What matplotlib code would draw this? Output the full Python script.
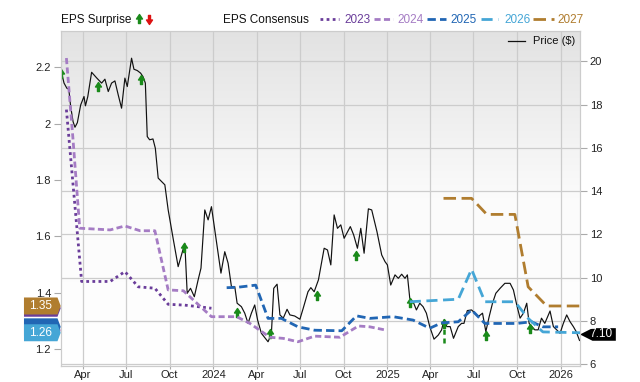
import matplotlib
matplotlib.use("Agg")
import matplotlib.pyplot as plt
import matplotlib.dates as mdates
import numpy as np
import pandas as pd
from matplotlib.path import Path
from matplotlib.patches import Polygon
from matplotlib.lines import Line2D
from matplotlib.colors import LinearSegmentedColormap
import matplotlib.transforms as mtransforms

plt.rcParams['font.family'] = ['Liberation Sans', 'DejaVu Sans']

# ---------------- data ----------------
price_dates = ["2023-02-14","2023-02-21","2023-02-27","2023-03-03","2023-03-07","2023-03-12","2023-03-16","2023-03-21","2023-03-28","2023-04-04",
               "2023-04-07","2023-04-12","2023-04-20","2023-05-01","2023-05-11","2023-05-18","2023-05-25","2023-06-01","2023-06-08","2023-06-15",
               "2023-06-22","2023-06-29","2023-07-04","2023-07-13","2023-07-18","2023-07-25","2023-08-01","2023-08-06","2023-08-11","2023-08-15",
               "2023-08-20","2023-08-27","2023-09-01","2023-09-07","2023-09-21","2023-09-28","2023-10-09","2023-10-19","2023-10-26","2023-11-02",
               "2023-11-07","2023-11-14","2023-11-22","2023-11-30","2023-12-06","2023-12-14","2023-12-21","2023-12-28","2024-01-04","2024-01-11",
               "2024-01-17","2024-01-25","2024-02-01","2024-02-08","2024-02-15","2024-02-20","2024-02-29","2024-03-07","2024-03-14","2024-03-21",
               "2024-03-28","2024-04-03","2024-04-11","2024-04-25","2024-05-02","2024-05-07","2024-05-14","2024-05-20","2024-05-27","2024-06-04",
               "2024-06-10","2024-06-20","2024-07-01","2024-07-08","2024-07-18","2024-07-24","2024-07-31","2024-08-09","2024-08-21","2024-08-28",
               "2024-09-04","2024-09-11","2024-09-18","2024-09-25","2024-10-02","2024-10-15","2024-10-22","2024-10-30","2024-11-06","2024-11-13",
               "2024-11-22","2024-11-29","2024-12-10","2024-12-20","2024-12-27","2025-01-01","2025-01-08","2025-01-17","2025-01-24","2025-01-31",
               "2025-02-07","2025-02-12","2025-02-17","2025-02-24","2025-03-03","2025-03-10","2025-03-17","2025-03-24","2025-03-31","2025-04-09",
               "2025-04-18","2025-04-25","2025-04-30","2025-05-06","2025-05-13","2025-05-20","2025-05-30","2025-06-06","2025-06-11","2025-06-18",
               "2025-06-27","2025-07-04","2025-07-11","2025-07-20","2025-07-27","2025-08-03","2025-08-10","2025-08-17","2025-08-26","2025-09-05",
               "2025-09-16","2025-09-23","2025-09-30","2025-10-07","2025-10-14","2025-10-21","2025-10-26","2025-11-07","2025-11-14","2025-11-21",
               "2025-11-28","2025-12-09","2025-12-16","2025-12-23","2025-12-30","2026-01-06","2026-01-13","2026-01-20","2026-01-27","2026-02-02",
               "2026-02-09"]
price_values = [19.63,18.99,18.75,18.71,17.90,17.21,16.95,17.16,17.98,18.37,
                17.94,18.37,19.49,19.22,18.99,19.17,18.60,18.99,19.09,18.44,
                17.83,19.22,18.83,20.14,19.63,19.57,19.45,19.29,18.99,16.52,
                16.37,16.41,15.98,14.60,14.29,13.13,11.74,10.51,11.05,11.59,
                9.28,9.51,9.12,9.90,10.44,13.13,12.67,13.28,12.21,11.13,
                10.21,11.20,10.67,9.59,9.59,8.82,8.66,8.36,7.89,8.36,
                8.74,8.05,7.43,7.04,7.40,9.51,9.70,8.28,8.13,8.54,
                8.28,8.23,8.08,8.59,9.35,9.54,9.35,9.90,11.36,11.28,
                10.59,12.90,12.28,12.44,11.82,12.36,11.98,11.36,12.28,11.13,
                13.18,13.13,12.13,11.05,10.74,10.59,9.66,10.13,9.97,10.16,
                9.97,10.13,9.05,8.89,8.51,8.82,8.66,8.36,7.74,7.16,
                7.35,7.59,8.05,7.74,7.74,7.20,7.74,7.89,7.89,8.48,
                8.51,8.36,8.20,8.36,7.51,8.20,8.82,9.28,9.51,9.74,
                9.74,9.43,8.74,8.13,8.36,8.82,7.89,7.59,7.59,8.13,
                7.89,8.46,7.74,7.59,7.43,7.89,8.28,7.97,7.74,7.51,
                7.10]

eps2023_dates = ["2023-02-26","2023-03-30","2023-05-29","2023-06-29","2023-07-27","2023-08-31","2023-09-28","2023-11-02","2023-12-28"]
eps2023_values = [2.05,1.44,1.44,1.475,1.421,1.416,1.359,1.356,1.345]

eps2024_dates = ["2023-02-26","2023-03-12","2023-03-26","2023-05-29","2023-06-29","2023-07-31","2023-08-31","2023-09-28","2023-10-30",
                 "2023-12-28","2024-02-19","2024-03-18","2024-04-29","2024-05-27","2024-06-27","2024-08-01","2024-09-23","2024-11-01",
                 "2024-11-25","2024-12-30"]
eps2024_values = [2.233,1.942,1.629,1.623,1.637,1.620,1.620,1.410,1.407,
                  1.315,1.315,1.291,1.242,1.238,1.226,1.246,1.242,1.282,
                  1.279,1.267]

eps2025_dates = ["2024-01-29","2024-02-19","2024-03-30","2024-04-25","2024-05-23","2024-06-27","2024-08-01","2024-09-27","2024-10-28",
                 "2024-11-25","2025-01-13","2025-02-24","2025-03-31","2025-04-25","2025-05-30","2025-06-27","2025-07-25","2025-09-30",
                 "2025-10-31","2025-11-24","2025-12-26"]
eps2025_values = [1.418,1.419,1.427,1.309,1.309,1.279,1.267,1.265,1.318,
                  1.309,1.315,1.303,1.274,1.293,1.297,1.339,1.291,1.291,
                  1.297,1.279,1.279]

eps2026_dates = ["2025-02-17","2025-05-30","2025-06-27","2025-07-25","2025-09-26","2025-10-24","2025-11-24","2026-02-10"]
eps2026_values = [1.368,1.377,1.483,1.368,1.368,1.309,1.261,1.258]

eps2027_dates = ["2025-04-29","2025-06-27","2025-07-29","2025-09-26","2025-10-24","2025-12-02","2026-02-10"]
eps2027_values = [1.735,1.735,1.678,1.678,1.421,1.353,1.353]

surprise_dates = ["2023-02-14","2023-05-03","2023-08-01","2023-11-01","2024-02-20","2024-04-30",
                  "2024-08-06","2024-10-28","2025-02-17","2025-04-29","2025-07-27","2025-10-27"]
surprise_values = [19.65,19.02,19.37,11.62,8.62,7.63,9.40,11.25,9.06,8.09,7.54,7.86]
stem_date = "2025-04-29"
stem_range = [7.0, 7.75]

year_labels = ["2023", "2024", "2025", "2026", "2027"]
year_colors = ["#6a3d9a", "#a57cc4", "#2166b4", "#45a6d6", "#b07d2f"]
last_price_label = "7.10"

price_ticks = [6, 8, 10, 12, 14, 16, 18, 20]
eps_ticks = [1.2, 1.4, 1.6, 1.8, 2.0, 2.2]

# ---------------- figure ----------------
fig = plt.figure(figsize=(6.4, 3.82), dpi=100)
rect = [60.7/640, (382-366)/382, (580-60.7)/640, (366-30.7)/382]

bg = fig.add_axes(rect, zorder=0)
grad = np.linspace(0, 1, 256)[:, None]
cmap = LinearSegmentedColormap.from_list("g", ["#ffffff", "#fbfbfb", "#e2e2e2"])
bg.imshow(grad, extent=[0, 1, 0, 1], origin="lower", aspect="auto", cmap=cmap)
bg.set_axis_off()

axp = fig.add_axes(rect, zorder=1)
axp.patch.set_visible(False)
axe = axp.twinx()
axe.set_zorder(2)
axe.patch.set_visible(False)

pd_dates = pd.to_datetime(price_dates)
x0 = pd.Timestamp("2023-02-14")
x1 = pd.Timestamp("2026-02-10")
axp.set_xlim(x0, x1)
axp.set_ylim(5.92, 21.41)
axe.set_ylim(1.14, 2.33)

# grid
axp.set_yticks(price_ticks)
axp.set_yticklabels([str(t) for t in price_ticks])
axp.yaxis.tick_right()
axp.grid(True, color="#cccccc", lw=0.9)
axp.set_axisbelow(True)

axp.xaxis.set_major_locator(mdates.MonthLocator(bymonth=[1, 4, 7, 10]))
def fmt(x, pos):
    d = mdates.num2date(x)
    return str(d.year) if d.month == 1 else d.strftime("%b")
axp.xaxis.set_major_formatter(plt.FuncFormatter(fmt))

axe.set_yticks(eps_ticks)
axe.set_yticklabels(["%g" % t for t in eps_ticks])
axe.yaxis.tick_left()

for a in (axp, axe):
    for s in a.spines.values():
        s.set_color("#cccccc")
    a.tick_params(colors="#aaaaaa", labelcolor="#222222", labelsize=8, length=5, width=0.8)
axp.tick_params(axis="x", length=2, pad=1, labelsize=8)
axp.tick_params(axis="y", pad=2)
axe.tick_params(axis="y", pad=2)

# price
axp.plot(pd_dates, price_values, color="#111111", lw=0.85, zorder=3)

# surprise arrows
av = np.array([(0, 0), (3, -4.5), (1, -4.5), (1, -9), (-1, -9), (-1, -4.5), (-3, -4.5), (0, 0)], float)
arrow_up = Path(av, closed=True)
axp.plot(pd.to_datetime([stem_date] * 2), stem_range, color="#1a8a1a", lw=1.8, ls=(0, (2, 1.5)), zorder=4)
axp.plot(pd.to_datetime(surprise_dates), surprise_values, ls="none", marker=arrow_up,
         ms=13, color="#1a8a1a", mec="#1a8a1a", zorder=5)

# EPS consensus lines
styles = [dict(ls=(0, (1, 1.2)), lw=2.0),
          dict(ls=(0, (2.2, 1.2)), lw=2.0),
          dict(ls=(0, (3, 1.5)), lw=2.0),
          dict(ls=(0, (4, 2)), lw=2.0),
          dict(ls=(0, (4.5, 2)), lw=2.0)]
series = [(eps2023_dates, eps2023_values), (eps2024_dates, eps2024_values), (eps2025_dates, eps2025_values),
          (eps2026_dates, eps2026_values), (eps2027_dates, eps2027_values)]
for (d, v), c, st in zip(series, year_colors, styles):
    axe.plot(pd.to_datetime(d), v, color=c, zorder=3, **st)

# left value tags (stacked)
bl = mtransforms.blended_transform_factory(axe.transAxes, axe.transData)
half_h = 8.5 / 281.8
def tag(val, color, text=None, z=10):
    xs = [-0.0707, -0.0062, 0.0, -0.0062, -0.0707]
    ys = [val + half_h, val + half_h, val, val - half_h, val - half_h]
    axe.add_patch(Polygon(list(zip(xs, ys)), closed=True, transform=bl, clip_on=False,
                          facecolor=color, edgecolor="none", zorder=z))
    if text:
        axe.text(-0.039, val, text, transform=bl, color="white", fontsize=8.5,
                 ha="center", va="center", clip_on=False, zorder=z + 1)

tag(eps2024_values[-1], year_colors[1])
tag(eps2023_values[-1], year_colors[0])
tag(eps2025_values[-1], year_colors[2])
tag(eps2027_values[-1], year_colors[4], "%.2f" % eps2027_values[-1])
tag(eps2026_values[-1], year_colors[3], "%.2f" % eps2026_values[-1])

# right price tag (drawn slightly above the last point, as in the original)
br = mtransforms.blended_transform_factory(axp.transAxes, axp.transData) + \
    mtransforms.ScaledTranslation(0, 6 / 100, fig.dpi_scale_trans)
ph = 6.3 / 21.64
lastp = price_values[-1]
xs = [1.0, 1.024, 1.069, 1.069, 1.024]
ys = [lastp, lastp + ph, lastp + ph, lastp - ph, lastp - ph]
axp.add_patch(Polygon(list(zip(xs, ys)), closed=True, transform=br, clip_on=False,
                      facecolor="black", edgecolor="none", zorder=10))
axp.text(1.041, lastp, last_price_label, transform=br, color="white", fontsize=8.5,
         ha="center", va="center", clip_on=False, zorder=11)

# in-plot price legend
axe.add_line(Line2D([0.861, 0.894], [0.969, 0.969], transform=axe.transAxes, color="#111111", lw=0.9))
axe.text(0.909, 0.969, "Price ($)", transform=axe.transAxes, fontsize=8, va="center", ha="left", color="#111111")

# top legend
ty = 1 - 23 / 382
tc = 1 - 19 / 382
fig.text(60.7 / 640, ty, "EPS Surprise", fontsize=8.5, va="baseline", ha="left", color="#111111")
legend_up = Line2D([138.7 / 640], [tc + 4.5 / 382], transform=fig.transFigure, marker=arrow_up, ms=13,
                   color="#1a8a1a", ls="none")
fig.add_artist(legend_up)
dv = av.copy(); dv[:, 1] = -dv[:, 1]
arrow_dn = Path(dv, closed=True)
legend_dn = Line2D([148.5 / 640], [tc - 4.5 / 382], transform=fig.transFigure, marker=arrow_dn, ms=13,
                   color="#dd1111", ls="none")
fig.add_artist(legend_dn)

fig.text(222.8 / 640, ty, "EPS Consensus", fontsize=8.5, va="baseline", ha="left", color="#111111")
sample_x = [(320, 339), (374, 393), (427, 446), (481, 498), (533, 554)]
label_x = [344, 397, 450, 504, 557]
for (a, b), lx, lab, c, st in zip(sample_x, label_x, year_labels, year_colors, styles):
    fig.add_artist(Line2D([a / 640, b / 640], [tc, tc], transform=fig.transFigure, color=c, **st))
    fig.text(lx / 640, ty, lab, fontsize=8.5, va="baseline", ha="left", color=c)

fig.savefig("out.png", dpi=100)
